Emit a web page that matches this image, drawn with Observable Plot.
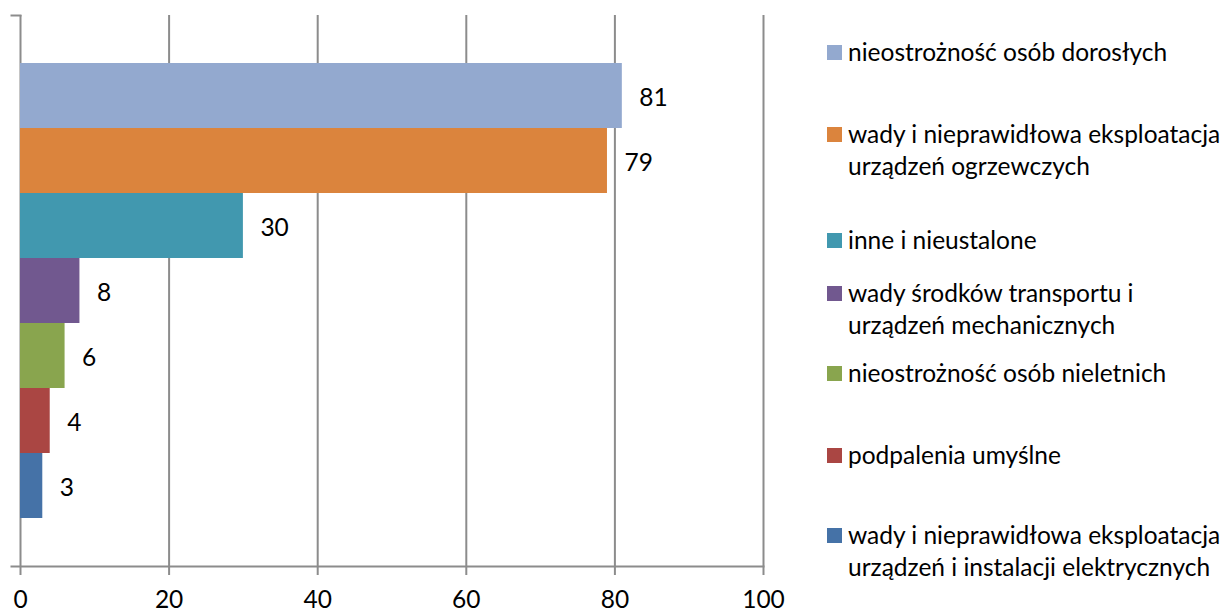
<!DOCTYPE html>
<html>
<head>
<meta charset="utf-8">
<script src="https://cdn.jsdelivr.net/npm/d3@7"></script>
<script src="https://cdn.jsdelivr.net/npm/@observablehq/plot@0.6"></script>
<style>
  html, body { margin: 0; padding: 0; background: #fff; }
  #wrap { position: relative; width: 1231px; height: 612px; font-family: Lato, "Open Sans", sans-serif; }
  #legend { position: absolute; left: 0; top: 0; width: 1231px; height: 612px; pointer-events: none; }
  .item { position: absolute; left: 827px; display: flex; align-items: flex-start; font-size: 24.5px; line-height: 32px; color: #000; white-space: nowrap; }
  .sw { width: 15px; height: 15px; margin-top: 9px; margin-right: 6px; flex: none; }
</style>
</head>
<body>
<div id="wrap"><div id="legend"></div></div>
<script>
const categories = [
  "nieostrożność osób dorosłych",
  "wady i nieprawidłowa eksploatacja urządzeń ogrzewczych",
  "inne i nieustalone",
  "wady środków transportu i urządzeń mechanicznych",
  "nieostrożność osób nieletnich",
  "podpalenia umyślne",
  "wady i nieprawidłowa eksploatacja urządzeń i instalacji elektrycznych"
];
const legendLines = [
  ["nieostrożność osób dorosłych"],
  ["wady i nieprawidłowa eksploatacja", "urządzeń ogrzewczych"],
  ["inne i nieustalone"],
  ["wady środków transportu i", "urządzeń mechanicznych"],
  ["nieostrożność osób nieletnich"],
  ["podpalenia umyślne"],
  ["wady i nieprawidłowa eksploatacja", "urządzeń i instalacji elektrycznych"]
];
const values = [81, 79, 30, 8, 6, 4, 3];
const colors = ["#93A9CF", "#DB843D", "#4198AF", "#71588F", "#89A54E", "#AA4643", "#4572A7"];
const xTicks = [0, 20, 40, 60, 80, 100];

const data = categories.map((c, i) => ({cat: c, value: values[i]}));
const grid = "#8c8c8c";

const chart = Plot.plot({
  width: 1231,
  height: 612,
  marginLeft: 20,
  marginRight: 468,
  marginTop: 15,
  marginBottom: 46,
  style: {fontFamily: "Lato, 'Open Sans', sans-serif", fontSize: "24.5px", color: "#000", background: "#fff"},
  x: {domain: [0, 100], ticks: xTicks, tickSize: 9, label: null},
  y: {domain: categories, range: [63, 518], padding: 0, axis: null},
  color: {domain: categories, range: colors},
  marks: [
    Plot.ruleX(xTicks, {stroke: grid, strokeWidth: 2}),
    Plot.frame({anchor: "bottom", stroke: grid, strokeWidth: 2, strokeOpacity: 1, insetLeft: -9}),
    Plot.frame({anchor: "top", stroke: grid, strokeWidth: 2, strokeOpacity: 1, insetLeft: -9, insetRight: 743}),
    Plot.axisX({ticks: xTicks, tickSize: 9, tickPadding: 15, stroke: grid, strokeWidth: 2, strokeOpacity: 1, label: null, fill: "#000", fontSize: 24.5}),
    Plot.barX(data, {x: "value", y: "cat", fill: "cat"}),
    Plot.text(data, {x: "value", y: "cat", text: d => String(d.value), textAnchor: "start", dx: 17, dy: 2, fill: "#000", fontSize: 24.5})
  ]
});
document.getElementById("wrap").insertBefore(chart, document.getElementById("legend"));

const legendTops = [36, 118, 224, 277, 357, 439, 519];
const legend = document.getElementById("legend");
legendLines.forEach((lines, i) => {
  const it = document.createElement("div");
  it.className = "item";
  it.style.top = legendTops[i] + "px";
  const sw = document.createElement("div");
  sw.className = "sw";
  sw.style.background = colors[i];
  const tx = document.createElement("div");
  tx.innerHTML = lines.join("<br>");
  it.appendChild(sw);
  it.appendChild(tx);
  legend.appendChild(it);
});
</script>
</body>
</html>
